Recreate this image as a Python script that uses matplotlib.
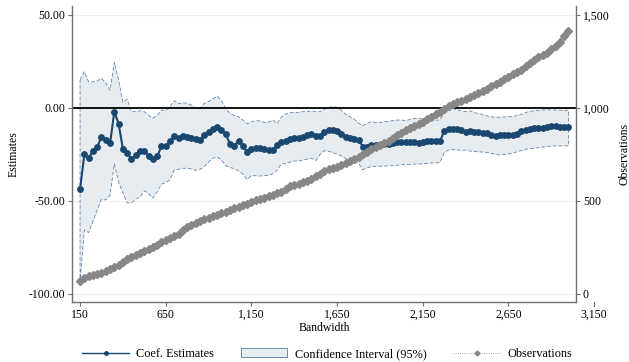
import numpy as np
import matplotlib
matplotlib.use('Agg')
import matplotlib.pyplot as plt
from matplotlib.lines import Line2D
from matplotlib.patches import Patch
from matplotlib.ticker import FuncFormatter
import matplotlib.transforms as mtransforms

plt.rcParams['font.family'] = ['Liberation Serif', 'DejaVu Serif']

# 带宽网格 150 ~ 3000, 步长 25
bandwidth = np.arange(150, 3001, 25)

# 系数估计值
coef = [
    -43.7, -25, -27, -23, -21, -15.5, -17, -19, -2, -8.5,
    -22, -24, -27.6, -25.3, -23, -23, -25.8, -27.4, -26, -20.7,
    -20.5, -18, -15, -16.3, -15.2, -15.5, -16.4, -16.7, -17, -14.8,
    -12.7, -11.5, -10, -11.8, -14, -19.5, -20.3, -17.6, -20.5, -23.5,
    -22, -21.7, -21.7, -22.3, -22.6, -22.8, -20, -18.1, -17.5, -16.5,
    -16.3, -16, -15.4, -14.5, -14, -15.2, -15, -13, -12, -11.8,
    -12.3, -13.8, -15.8, -16.3, -16.5, -17, -20.8, -21.2, -19.9, -19.8,
    -19.7, -19.5, -19.4, -19, -18.3, -18.1, -18.2, -18.3, -18.5, -18.6,
    -18.3, -17.9, -17.8, -17.8, -18, -12.5, -11.5, -11.2, -11.3, -12,
    -12.7, -12.6, -12.7, -12.8, -13.2, -13.6, -14.5, -15, -14.3, -14.5,
    -14.5, -14.6, -14.2, -12.5, -11.8, -11.3, -10.9, -10.9, -10.8, -10.2,
    -9.9, -9.8, -10.1, -10.5, -10.5,
]

# 95% 置信区间上下界
ci_upper = [
    15, 19.5, 14, 14, 14.5, 16, 13.5, 9.5, 24.5, 15,
    3, 4.7, -2, -2, -1.5, -2, -4, -5.5, -4, -1.1,
    -1.5, 0.7, 3.9, 2.2, 2.9, 2.5, 1.5, 0, -0.5, 2.5,
    3.4, 5, 6.3, 3.9, 0, -3, -4, -4.7, -6.5, -8.5,
    -7.5, -6.8, -7, -7.8, -7.5, -6.5, -8.4, -4.8, -3.2, -2.6,
    -2.5, -2.3, -2, -2, -1.5, -2, -2, -0.7, 0.3, 0.7,
    0.4, -1.3, -3.5, -4.7, -6, -8.2, -9.5, -8.3, -7.4, -7.8,
    -7.9, -7.4, -7.2, -6.8, -6.5, -6.5, -6.8, -6.2, -5.7, -5.5,
    -6, -6.5, -6.8, -6.5, -6.5, -2.5, -0.3, -0.3, -1.1, -1.5,
    -2, -1.5, -2.5, -3, -3.5, -4.3, -4.8, -5, -5, -4.8,
    -4.7, -4.6, -4, -3.5, -2.5, -1.8, -1.5, -1.3, -1.1, -1,
    -1.1, -1.1, -1.2, -1.3, -1.2,
]
ci_lower = [
    -93.5, -65.6, -67, -61, -55, -49, -49.5, -47, -30, -40,
    -45.5, -51, -51, -49, -48, -44.5, -46, -48.5, -45, -41,
    -40, -38.7, -33.3, -33, -32.4, -32.4, -32.8, -33.5, -33, -31.5,
    -29, -27, -26.2, -28, -31, -32, -32.6, -33.8, -35.5, -38.5,
    -36.3, -36.5, -36.6, -36.4, -36.2, -35.3, -33.5, -30, -30, -29.2,
    -28.5, -28.5, -28, -27.5, -27, -28.3, -25, -23, -23.3, -24,
    -24.8, -25.8, -27.2, -28.5, -29.2, -29.7, -33.2, -32.2, -31.5, -31.3,
    -31.3, -31.2, -31.2, -31, -30.8, -30.5, -30.4, -30.3, -30.2, -30.1,
    -30, -29.7, -29.6, -29.5, -29.4, -24, -22.6, -22.4, -22.5, -22.8,
    -22.6, -23.2, -23.4, -23.6, -23.7, -24, -24.4, -25, -25.3, -25,
    -24.7, -24.2, -23.6, -22.8, -22.3, -21.8, -21.6, -21.3, -21, -20.8,
    -20.5, -20.4, -20.4, -20.4, -20.4,
]

# 样本量
observations = [
    72, 85, 95, 103, 110, 115, 121, 133, 145, 157,
    170, 188, 200, 212, 222, 233, 243, 253, 264, 277,
    289, 300, 311, 322, 342, 362, 372, 383, 392, 401,
    409, 418, 426, 434, 443, 451, 460, 469, 477, 486,
    495, 503, 510, 518, 526, 534, 542, 550, 565, 580,
    587, 593, 600, 610, 620, 633, 645, 660, 672, 676,
    685, 694, 704, 714, 726, 738, 750, 764, 778, 790,
    801, 812, 825, 840, 854, 868, 879, 890, 901, 913,
    926, 940, 953, 966, 980, 995, 1009, 1022, 1032, 1040,
    1050, 1059, 1068, 1079, 1091, 1104, 1116, 1128, 1140, 1153,
    1167, 1180, 1194, 1206, 1225, 1242, 1260, 1272, 1284, 1298,
    1315, 1332, 1355, 1385, 1415,
]

x_ticks = [150, 650, 1150, 1650, 2150, 2650, 3150]
y_ticks = [-100, -50, 0, 50]
obs_ticks = [0, 500, 1000, 1500]

navy = '#1a476f'
ci_fill = '#e7ecf1'
ci_edge = '#5b7fa3'
gray = '#878787'
axis_col = '#707070'

fig = plt.figure(figsize=(6.29, 3.62), dpi=100)
ax = fig.add_axes([72 / 629, 60 / 362, 504 / 629, 296 / 362])

x_lo, x_hi = 103, 3044
y_lo, y_hi = -104.3, 54.8
ax.set_xlim(x_lo, x_hi)
ax.set_ylim(y_lo, y_hi)

# 置信区间
poly_x = np.r_[bandwidth, bandwidth[::-1]]
poly_y = np.r_[ci_upper, ci_lower[::-1]]
ax.fill(poly_x, poly_y, facecolor=ci_fill, edgecolor=ci_edge,
        linewidth=0.55, linestyle=(0, (5, 2.5)), zorder=1)

ax.axhline(0, color='black', lw=1.3, zorder=2)
ax.plot(bandwidth, coef, color=navy, lw=1.5, marker='o', ms=3.9,
        mec=navy, mfc=navy, zorder=3)

ax.set_yticks(y_ticks)
ax.yaxis.set_major_formatter(FuncFormatter(lambda v, p: f'{v:.2f}'))
ax.set_xticks(x_ticks[:-1])
ax.xaxis.set_major_formatter(FuncFormatter(lambda v, p: f'{int(v):,}'))
ax.yaxis.grid(True, color='#e9f0f2', lw=0.8, zorder=0)
ax.set_axisbelow(True)

for s in ['top', 'right']:
    ax.spines[s].set_visible(False)
for s in ['left', 'bottom']:
    ax.spines[s].set_color(axis_col)
    ax.spines[s].set_linewidth(1.0)
ax.tick_params(direction='out', length=3, width=0.8, color=axis_col,
               labelsize=8.5, pad=2)

ax.set_ylabel('Estimates', fontsize=8.5, labelpad=6)
ax.set_xlabel('Bandwidth', fontsize=8.5, labelpad=1)

# 3,150 落在绘图区外，单独补刻度
blend = mtransforms.blended_transform_factory(ax.transData, ax.transAxes)
tick_len = 3 * 100 / 72 / 296
ax.add_line(Line2D([3150, 3150], [0, -tick_len], transform=blend,
                   color=axis_col, lw=0.8, clip_on=False))
ax.annotate('3,150', xy=(3150, 0), xycoords=blend, xytext=(0, -5),
            textcoords='offset points', ha='center', va='top', fontsize=8.5,
            annotation_clip=False)

# 右轴：样本量
ax2 = ax.twinx()
ax2.set_ylim((y_lo + 100) * 10, (y_hi + 100) * 10)
ax2.plot(bandwidth, observations, color=gray, lw=0.6, ls=':', marker='D',
         ms=3.8, mec=gray, mfc=gray, zorder=4)
ax2.set_yticks(obs_ticks)
ax2.yaxis.set_major_formatter(FuncFormatter(lambda v, p: f'{int(v):,}'))
for s in ['top', 'left', 'bottom']:
    ax2.spines[s].set_visible(False)
ax2.spines['right'].set_color(axis_col)
ax2.spines['right'].set_linewidth(1.0)
ax2.tick_params(direction='out', length=3, width=0.8, color=axis_col,
                labelsize=8.5, pad=2)
ax2.set_ylabel('Observations', fontsize=8.5, labelpad=6)

handles = [
    Line2D([], [], color=navy, lw=1.0, marker='o', ms=2.5),
    Patch(facecolor=ci_fill, edgecolor=ci_edge, linewidth=0.6),
    Line2D([], [], color=gray, lw=0.6, ls=':', marker='D', ms=2.5),
]
labels = ['Coef. Estimates', 'Confidence Interval (95%)', 'Observations']
fig.legend(handles, labels, loc='lower center', bbox_to_anchor=(0.52, -0.025),
           ncol=3, frameon=False, fontsize=8.8, handlelength=3.8,
           columnspacing=2.2, handletextpad=0.6)

fig.savefig('out.png', dpi=100)
